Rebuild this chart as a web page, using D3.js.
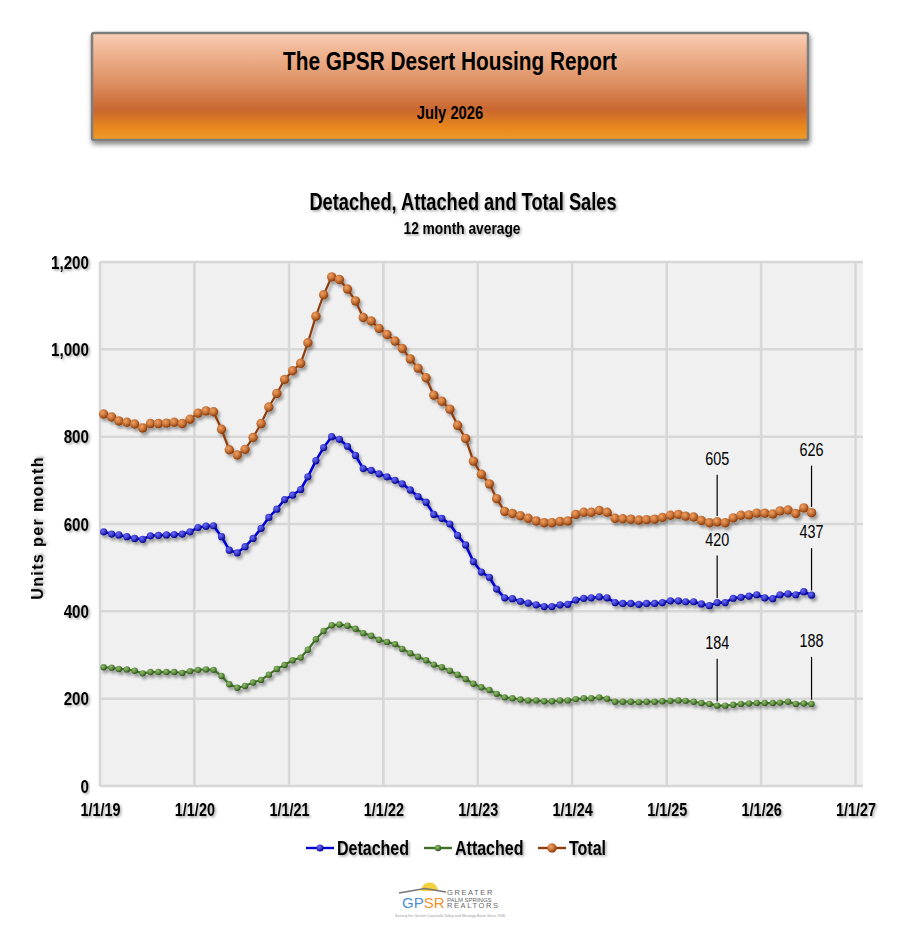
<!DOCTYPE html>
<html>
<head>
<meta charset="utf-8">
<script src="https://cdn.jsdelivr.net/npm/d3@7"></script>
<style>
  body { margin: 0; background: #fff; }
  svg text { font-family: "Liberation Sans", Arial, sans-serif; font-weight: bold; }
</style>
</head>
<body>
<div id="chart"></div>
<script>
// Monthly points, Jan 2019 .. Jul 2026 (plotted mid-month)
const months = d3.range(91).map(i => new Date(2019, i, 15));

const detached = [
  582, 577, 575, 571, 567, 565, 573, 574, 575, 576,
  577, 582, 592, 595, 596, 571, 540, 534, 548, 567,
  590, 615, 634, 656, 666, 679, 708, 745, 775, 800,
  794, 778, 757, 727, 723, 715, 708, 700, 692, 678,
  663, 650, 622, 613, 600, 574, 552, 514, 490, 478,
  451, 431, 429, 423, 419, 415, 411, 411, 415, 416,
  426, 430, 431, 433, 431, 420, 418, 418, 416, 418,
  418, 420, 424, 424, 422, 422, 417, 413, 420, 420,
  430, 432, 435, 438, 431, 429, 438, 440, 438, 445,
  437
];
const attached = [
  272, 271, 268, 267, 264, 258, 261, 261, 261, 261,
  259, 263, 266, 267, 266, 252, 233, 225, 229, 237,
  243, 255, 268, 277, 288, 294, 312, 336, 355, 368,
  370, 367, 360, 350, 344, 335, 330, 325, 314, 304,
  296, 288, 278, 272, 264, 255, 245, 234, 226, 220,
  211, 203, 201, 198, 196, 196, 194, 194, 196, 196,
  199, 201, 201, 203, 200, 193, 193, 193, 192, 193,
  193, 194, 195, 196, 195, 193, 190, 188, 184, 184,
  186, 188, 189, 190, 190, 190, 191, 193, 188, 189,
  188
];
const total = [
  852, 845, 836, 833, 829, 820, 830, 830, 831, 833,
  830, 840, 854, 859, 857, 817, 770, 758, 771, 798,
  830, 868, 899, 931, 951, 968, 1015, 1076, 1125, 1166,
  1160, 1138, 1111, 1073, 1065, 1048, 1034, 1019, 1002, 978,
  957, 935, 895, 881, 863, 826, 796, 744, 714, 692,
  658, 629, 624, 619, 613, 607, 603, 603, 606, 607,
  622, 627, 627, 631, 627, 613, 612, 611, 609, 610,
  611, 615, 620, 622, 618, 616, 608, 603, 605, 603,
  614, 620, 621, 625, 625, 623, 630, 632, 624, 637,
  626
];

const xTickLabels = ["1/1/19", "1/1/20", "1/1/21", "1/1/22", "1/1/23", "1/1/24", "1/1/25", "1/1/26", "1/1/27"];
const yTicks = [0, 200, 400, 600, 800, 1000, 1200];
const seriesNames = ["Detached", "Attached", "Total"];
// points that carry a value label (index into months)
const labelledPoints = [78, 90];

const width = 907, height = 949;

// squeeze Liberation Sans into an Arial-Narrow look
function condense(sel, f = 0.82) {
  sel.each(function() {
    const w = this.getComputedTextLength();
    d3.select(this).attr("textLength", w * f).attr("lengthAdjust", "spacingAndGlyphs");
  });
}

const svg = d3.select("#chart").append("svg")
  .attr("width", width)
  .attr("height", height);

const defs = svg.append("defs");

// header gradient
const hg = defs.append("linearGradient").attr("id", "hdr").attr("x1", 0).attr("y1", 0).attr("x2", 0).attr("y2", 1);
[[0, "#f7d0b8"], [0.12, "#f3bc9c"], [0.45, "#de9265"], [0.72, "#c9672f"], [0.88, "#e8871c"], [1, "#f09a2a"]]
  .forEach(([o, c]) => hg.append("stop").attr("offset", o).attr("stop-color", c));

// shadows
const sh = defs.append("filter").attr("id", "shadow").attr("x", "-20%").attr("y", "-20%").attr("width", "140%").attr("height", "160%");
sh.append("feDropShadow").attr("dx", 2).attr("dy", 3).attr("stdDeviation", 1.6).attr("flood-color", "#000").attr("flood-opacity", 0.35);
const tsh = defs.append("filter").attr("id", "tshadow").attr("x", "-10%").attr("y", "-20%").attr("width", "120%").attr("height", "150%");
tsh.append("feDropShadow").attr("dx", 1.5).attr("dy", 1.5).attr("stdDeviation", 0.9).attr("flood-color", "#000").attr("flood-opacity", 0.35);
const bsh = defs.append("filter").attr("id", "bshadow").attr("x", "-5%").attr("y", "-10%").attr("width", "110%").attr("height", "130%");
bsh.append("feDropShadow").attr("dx", 1).attr("dy", 3).attr("stdDeviation", 2.5).attr("flood-color", "#000").attr("flood-opacity", 0.5);

// header box
const header = svg.append("g");
header.append("rect")
  .attr("x", 92).attr("y", 33).attr("width", 716).attr("height", 107)
  .attr("rx", 2)
  .attr("fill", "url(#hdr)")
  .attr("stroke", "#7d7d7d").attr("stroke-width", 2.5)
  .attr("filter", "url(#bshadow)");
header.append("text")
  .attr("x", 450).attr("y", 70)
  .attr("text-anchor", "middle")
  .attr("font-size", 26)
  .text("The GPSR Desert Housing Report")
  .call(condense, 0.8);
header.append("text")
  .attr("x", 450).attr("y", 119)
  .attr("text-anchor", "middle")
  .attr("font-size", 18)
  .text("July 2026")
  .call(condense, 0.82);

// chart titles
svg.append("text")
  .attr("x", 463).attr("y", 210)
  .attr("text-anchor", "middle")
  .attr("font-size", 24)
  .attr("filter", "url(#tshadow)")
  .text("Detached, Attached and Total Sales")
  .call(condense, 0.76);
svg.append("text")
  .attr("x", 462).attr("y", 234)
  .attr("text-anchor", "middle")
  .attr("font-size", 16)
  .attr("filter", "url(#tshadow)")
  .text("12 month average")
  .call(condense, 0.86);

// scales
const x = d3.scaleTime()
  .domain([new Date(2019, 0, 1), new Date(2027, 0, 1)])
  .range([100, 855.5]);
const y = d3.scaleLinear()
  .domain([0, 1200])
  .range([786, 262]);

const plotRight = 863;

// plot background
svg.append("rect")
  .attr("x", x.range()[0]).attr("y", y(1200))
  .attr("width", plotRight - x.range()[0])
  .attr("height", y(0) - y(1200))
  .attr("fill", "#f0f0f0");

const tickDates = xTickLabels.map((d, i) => new Date(2019 + i, 0, 1));

// gridlines
svg.append("g").selectAll("line.h")
  .data(yTicks)
  .join("line")
  .attr("x1", x.range()[0]).attr("x2", plotRight)
  .attr("y1", d => y(d)).attr("y2", d => y(d))
  .attr("stroke", "#d7d7d7").attr("stroke-width", 2.5);
svg.append("g").selectAll("line.v")
  .data(tickDates)
  .join("line")
  .attr("x1", d => x(d)).attr("x2", d => x(d))
  .attr("y1", y(1200)).attr("y2", y(0))
  .attr("stroke", "#d7d7d7").attr("stroke-width", 2.5);

// axes (labels only)
const yAxis = svg.append("g")
  .attr("transform", `translate(${x.range()[0]},0)`)
  .call(d3.axisLeft(y).tickValues(yTicks).tickFormat(d3.format(",")).tickSize(0).tickPadding(11));
yAxis.select(".domain").remove();
yAxis.selectAll("text")
  .attr("font-size", 19)
  .attr("fill", "#000")
  .attr("filter", "url(#tshadow)")
  .call(condense, 0.8);

const xAxis = svg.append("g")
  .attr("transform", `translate(0,${y(0)})`)
  .call(d3.axisBottom(x).tickValues(tickDates).tickFormat((d, i) => xTickLabels[i]).tickSize(0).tickPadding(17));
xAxis.select(".domain").remove();
xAxis.selectAll("text")
  .attr("font-size", 18)
  .attr("fill", "#000")
  .attr("filter", "url(#tshadow)")
  .call(condense, 0.8);

svg.append("text")
  .attr("transform", `translate(43,${(y(0) + y(1200)) / 2 + 4}) rotate(-90)`)
  .attr("text-anchor", "middle")
  .attr("font-size", 16)
  .attr("letter-spacing", 1.4)
  .attr("filter", "url(#tshadow)")
  .text("Units per month");

// series
const series = [
  { name: seriesNames[0], values: detached, line: "#0000d4", lw: 2.6, r: 3.6, light: "#6b6bff", dark: "#00008c" },
  { name: seriesNames[1], values: attached, line: "#3f7026", lw: 2.2, r: 3.2, light: "#8fbf6a", dark: "#2c5418" },
  { name: seriesNames[2], values: total, line: "#8e3c0c", lw: 2.2, r: 4.7, light: "#f3a060", dark: "#8a3a08" }
];

series.forEach((s, k) => {
  const rg = defs.append("radialGradient").attr("id", "mk" + k)
    .attr("cx", "38%").attr("cy", "35%").attr("r", "65%");
  rg.append("stop").attr("offset", 0).attr("stop-color", s.light);
  rg.append("stop").attr("offset", 0.55).attr("stop-color", d3.interpolateRgb(s.light, s.dark)(0.45));
  rg.append("stop").attr("offset", 1).attr("stop-color", s.dark);
});

const lineGen = d3.line()
  .x(d => x(d.date))
  .y(d => y(d.value));

series.forEach((s, k) => {
  const pts = s.values.map((v, i) => ({ date: months[i], value: v }));
  const g = svg.append("g").attr("filter", "url(#shadow)");
  g.append("path")
    .datum(pts)
    .attr("d", lineGen)
    .attr("fill", "none")
    .attr("stroke", s.line)
    .attr("stroke-width", s.lw)
    .attr("stroke-linejoin", "round");
  g.selectAll("circle")
    .data(pts)
    .join("circle")
    .attr("cx", d => x(d.date))
    .attr("cy", d => y(d.value))
    .attr("r", s.r)
    .attr("fill", `url(#mk${k})`);
});

// value callouts
const callouts = [];
series.forEach(s => labelledPoints.forEach(i => callouts.push({ date: months[i], value: s.values[i], r: s.r })));
const cg = svg.append("g");
cg.selectAll("line")
  .data(callouts)
  .join("line")
  .attr("x1", d => x(d.date)).attr("x2", d => x(d.date))
  .attr("y1", d => y(d.value) - 47)
  .attr("y2", d => y(d.value) - d.r - 1)
  .attr("stroke", "#000").attr("stroke-width", 1.2);
cg.selectAll("text")
  .data(callouts)
  .join("text")
  .attr("x", d => x(d.date))
  .attr("y", d => y(d.value) - 57)
  .attr("text-anchor", "middle")
  .attr("font-size", 18)
  .style("font-weight", "normal")
  .text(d => d3.format(",")(d.value))
  .call(condense, 0.8);

// legend
const legendItems = [
  { name: seriesNames[0], k: 0, x: 306 },
  { name: seriesNames[1], k: 1, x: 424 },
  { name: seriesNames[2], k: 2, x: 538 }
];
const lg = svg.append("g").attr("transform", "translate(0,848)");
const li = lg.selectAll("g").data(legendItems).join("g")
  .attr("transform", d => `translate(${d.x},0)`);
li.append("line")
  .attr("x1", 0).attr("x2", 28)
  .attr("stroke", d => series[d.k].line)
  .attr("stroke-width", 2.4);
li.append("circle")
  .attr("cx", 14).attr("r", d => series[d.k].r)
  .attr("fill", d => `url(#mk${d.k})`);
li.append("text")
  .attr("x", 31).attr("y", 7)
  .attr("font-size", 20)
  .attr("filter", "url(#tshadow)")
  .text(d => d.name)
  .call(condense, 0.8);

// GPSR logo
const logo = svg.append("g");
logo.append("path")
  .attr("d", "M421,891 A8.5,8.5 0 0 1 438,891 Z")
  .attr("fill", "#f4d03c");
logo.append("path")
  .attr("d", "M399,893 L425,888.5 L446,892")
  .attr("fill", "none").attr("stroke", "#777").attr("stroke-width", 1.6);
const gp = logo.append("text")
  .attr("x", 402).attr("y", 908)
  .attr("font-size", 15)
  .style("font-weight", "normal");
gp.append("tspan").attr("fill", "#4a8fd0").text("GP");
gp.append("tspan").attr("fill", "#f0932b").text("SR");
logo.selectAll("text.tag")
  .data(["GREATER", "PALM SPRINGS", "REALTORS"])
  .join("text")
  .attr("class", "tag")
  .attr("x", 447).attr("y", (d, i) => 895 + i * 6.5)
  .attr("font-size", (d, i) => i === 1 ? 6 : 7.5)
  .attr("letter-spacing", (d, i) => i === 1 ? 0 : 1.6)
  .style("font-weight", "normal")
  .attr("fill", "#666")
  .text(d => d);
logo.append("text")
  .attr("x", 450).attr("y", 917)
  .attr("text-anchor", "middle")
  .attr("font-size", 3.6)
  .style("font-weight", "normal")
  .attr("fill", "#999")
  .text("Serving the Greater Coachella Valley and Morongo Basin Since 1946");
</script>
</body>
</html>
